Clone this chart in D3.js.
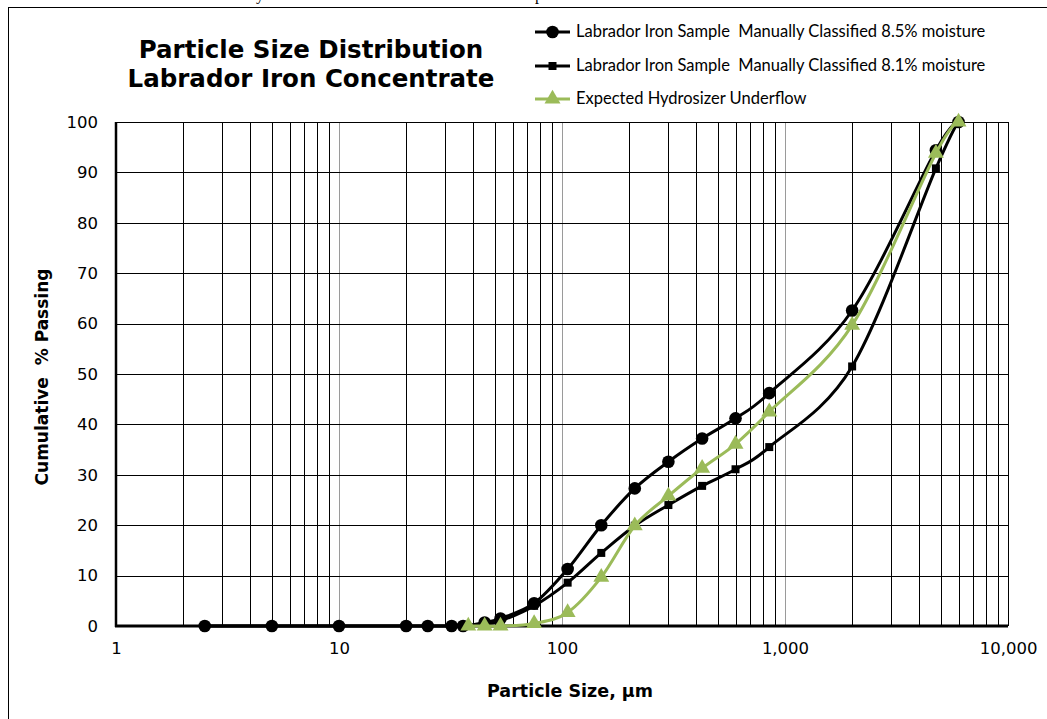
<!DOCTYPE html>
<html>
<head>
<meta charset="utf-8">
<script src="https://cdnjs.cloudflare.com/ajax/libs/d3/7.8.5/d3.min.js"></script>
<style>
  body { margin:0; background:#fff; }
  svg { display:block; }
</style>
</head>
<body>
<div id="plot"></div>
<script>
// data
var sizesA = [2.5, 5, 10, 20, 25, 32, 36, 45, 53, 75, 106, 150, 212, 300, 425, 600, 850, 2000, 4750, 6000];
var passA  = [0, 0, 0, 0, 0, 0, 0, 0.7, 1.5, 4.5, 11.3, 20, 27.3, 32.6, 37.2, 41.2, 46.2, 62.6, 94.4, 100];

var sizesB = [2.5, 5, 10, 20, 25, 32, 36, 45, 53, 75, 106, 150, 212, 300, 425, 600, 850, 2000, 4750, 6000];
var passB  = [0, 0, 0, 0, 0, 0, 0, 0.3, 1.0, 4.0, 8.6, 14.5, 19.9, 24, 27.8, 31.1, 35.5, 51.5, 90.8, 100];

var sizesC = [38, 45, 53, 75, 106, 150, 212, 300, 425, 600, 850, 2000, 4750, 6000];
var passC  = [0, 0, 0, 0.5, 2.7, 9.7, 19.9, 25.8, 31.3, 36.1, 42.5, 59.7, 93.8, 100];

var seriesNames = ['Labrador Iron Sample  Manually Classified 8.5% moisture',
                   'Labrador Iron Sample  Manually Classified 8.1% moisture',
                   'Expected Hydrosizer Underflow'];
var xTicks = [1, 10, 100, 1000, 10000];
var yTicks = [0, 10, 20, 30, 40, 50, 60, 70, 80, 90, 100];

var green = '#9bbb59';
var W = 1047, H = 719;
var margin = {t:122, r:39, b:93, l:116};
var width = W - margin.l - margin.r,
    height = H - margin.t - margin.b;

var svg = d3.select('#plot').append('svg')
    .attr('width', W)
    .attr('height', H);

// cut-off text from the page above (only descenders show, as in the original)
svg.append('text').attr('x', 256).attr('y', 0)
    .style('font-family', 'Liberation Serif').style('font-size', '16px').text('y');
svg.append('text').attr('x', 535).attr('y', 0)
    .style('font-family', 'Liberation Serif').style('font-size', '16px').text('p');

// chart border
svg.append('rect')
    .attr('x', 8.5).attr('y', 7.5)
    .attr('width', 1060).attr('height', 730)
    .attr('fill', 'none').attr('stroke', '#000').attr('stroke-width', 1);

var plot = svg.append('g')
    .attr('transform', 'translate(' + margin.l + ',' + margin.t + ')');

var x = d3.scaleLog().domain([1, 10000]).range([0, width]);
var y = d3.scaleLinear().domain([0, 100]).range([height, 0]);

// vertical grid: minor black, decades gray
var minor = [];
for (var k = 0; k < 4; k++) {
    for (var m = 2; m <= 9; m++) minor.push(m * Math.pow(10, k));
}
plot.selectAll('.vminor').data(minor).enter().append('line')
    .attr('x1', function(d){ return Math.round(x(d)) + 0.5; })
    .attr('x2', function(d){ return Math.round(x(d)) + 0.5; })
    .attr('y1', 0).attr('y2', height)
    .attr('stroke', '#000').attr('stroke-width', 1);

plot.selectAll('.vmajor').data([10, 100, 1000]).enter().append('line')
    .attr('x1', function(d){ return Math.round(x(d)) + 0.5; })
    .attr('x2', function(d){ return Math.round(x(d)) + 0.5; })
    .attr('y1', 0).attr('y2', height)
    .attr('stroke', '#9a9a9a').attr('stroke-width', 1);

plot.append('line')
    .attr('x1', Math.round(x(10000)) + 0.5).attr('x2', Math.round(x(10000)) + 0.5)
    .attr('y1', 0).attr('y2', height)
    .attr('stroke', '#000').attr('stroke-width', 1);

// horizontal grid
plot.selectAll('.hgrid').data(yTicks.slice(1)).enter().append('line')
    .attr('x1', 0).attr('x2', width)
    .attr('y1', function(d){ return Math.round(y(d)) + 0.5; })
    .attr('y2', function(d){ return Math.round(y(d)) + 0.5; })
    .attr('stroke', '#000').attr('stroke-width', 1);

// axes
var xAxis = d3.axisBottom(x).tickValues(xTicks).tickSize(0).tickPadding(16)
    .tickFormat(d3.format(','));
var yAxis = d3.axisLeft(y).tickValues(yTicks).tickSize(0).tickPadding(18);

var gx = plot.append('g').attr('transform', 'translate(0,' + height + ')').call(xAxis);
var gy = plot.append('g').call(yAxis);
[gx, gy].forEach(function(g){
    g.select('.domain').remove();
    g.selectAll('text')
        .style('font-family', 'DejaVu Sans, Verdana')
        .style('font-size', '16.5px')
        .attr('fill', '#000');
});

plot.append('line').attr('x1', 0).attr('x2', 0).attr('y1', 0).attr('y2', height + 1)
    .attr('stroke', '#000').attr('stroke-width', 2.5);
plot.append('line').attr('x1', -1).attr('x2', width).attr('y1', height).attr('y2', height)
    .attr('stroke', '#000').attr('stroke-width', 3);

// series
function pts(sz, vals){
    return sz.map(function(s, i){ return {x: s, y: vals[i]}; });
}
var series = [
    {name: seriesNames[0], data: pts(sizesA, passA), color: '#000', marker: 'circle'},
    {name: seriesNames[1], data: pts(sizesB, passB), color: '#000', marker: 'square'},
    {name: seriesNames[2], data: pts(sizesC, passC), color: green, marker: 'triangle'}
];

var line = d3.line()
    .x(function(d){ return x(d.x); })
    .y(function(d){ return y(d.y); })
    .curve(d3.curveCardinal.tension(0));

var symbols = {
    circle: d3.symbol().type(d3.symbolCircle).size(125),
    square: d3.symbol().type(d3.symbolSquare).size(64),
    triangle: d3.symbol().type(d3.symbolTriangle).size(110)
};

series.forEach(function(s){
    plot.append('path')
        .attr('d', line(s.data))
        .attr('fill', 'none')
        .attr('stroke', s.color)
        .attr('stroke-width', 3);
    plot.selectAll('.m').data(s.data).enter().append('path')
        .attr('d', symbols[s.marker])
        .attr('transform', function(d){ return 'translate(' + x(d.x) + ',' + y(d.y) + ')'; })
        .attr('fill', s.color);
});

// title
var title = svg.append('text')
    .attr('text-anchor', 'middle')
    .style('font-family', 'DejaVu Sans, Verdana')
    .style('font-weight', 'bold')
    .style('font-size', '24.5px');
title.append('tspan').attr('x', 311).attr('y', 58).text('Particle Size Distribution');
title.append('tspan').attr('x', 311).attr('y', 87).text('Labrador Iron Concentrate');

// axis titles
svg.append('text')
    .attr('x', margin.l + x(100) + 8).attr('y', 697)
    .attr('text-anchor', 'middle')
    .style('font-family', 'DejaVu Sans, Verdana')
    .style('font-weight', 'bold')
    .style('font-size', '17.5px')
    .text('Particle Size, µm');

svg.append('text')
    .attr('transform', 'translate(48,377) rotate(-90)')
    .attr('text-anchor', 'middle')
    .style('font-family', 'DejaVu Sans, Verdana')
    .style('font-weight', 'bold')
    .style('font-size', '17px')
    .style('white-space', 'pre')
    .text('Cumulative  % Passing');

// legend
var legendY = [32, 66, 99];
series.forEach(function(s, i){
    var g = svg.append('g').attr('transform', 'translate(535,' + legendY[i] + ')');
    g.append('line').attr('x1', 0).attr('x2', 35).attr('y1', 0).attr('y2', 0)
        .attr('stroke', s.color).attr('stroke-width', 3);
    g.append('path').attr('d', symbols[s.marker]).attr('transform', 'translate(17.5,0)')
        .attr('fill', s.color);
    g.append('text').attr('x', 41).attr('y', 5)
        .style('font-family', 'Lato, Open Sans, sans-serif')
        .style('font-size', '16.5px')
        .style('white-space', 'pre')
        .text(s.name);
});
</script>
</body>
</html>
